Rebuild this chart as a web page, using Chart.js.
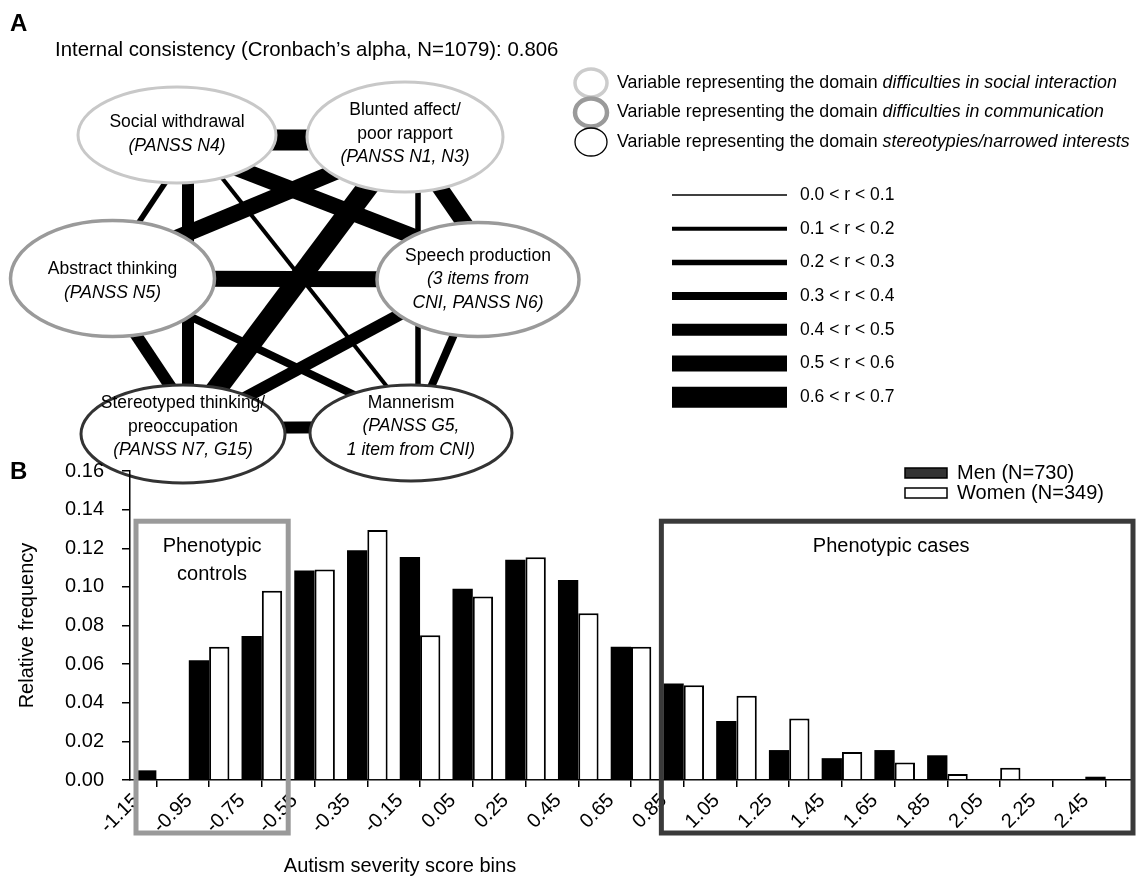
<!DOCTYPE html>
<html><head><meta charset="utf-8">
<script src="https://cdn.jsdelivr.net/npm/chart.js@4.4.1/dist/chart.umd.min.js"></script>
<style>
html,body{margin:0;padding:0;background:#fff;}
#wrap{position:relative;width:1136px;height:876px;overflow:hidden;background:#fff;}
canvas{position:absolute;left:0;}
#cA{top:0;} #cB{top:440px;}
</style></head><body>
<div id="wrap"><canvas id="cA" width="1136" height="500"></canvas><canvas id="cB" width="1136" height="436"></canvas></div>
<script>
// ===================== DATA =====================
// Panel B: histogram of autism severity score
const binLabels = ['-1.15','-0.95','-0.75','-0.55','-0.35','-0.15','0.05','0.25','0.45','0.65','0.85','1.05','1.25','1.45','1.65','1.85','2.05','2.25','2.45'];
const menFreq   = [0.005,0.062,0.0745,0.1085,0.119,0.1155,0.099,0.114,0.1035,0.069,0.050,0.0305,0.0155,0.0113,0.0155,0.0128,0.0,0.0,0.0017];
const womenFreq = [0.0,0.069,0.098,0.109,0.1295,0.075,0.095,0.1153,0.0864,0.069,0.049,0.0436,0.0319,0.0145,0.009,0.0031,0.0064,0.0,0.0];
const seriesLabels = ['Men (N=730)','Women (N=349)'];
const yTickLabels = ['0.00','0.02','0.04','0.06','0.08','0.10','0.12','0.14','0.16'];
const controlsBins = [0,2];   // bins inside "Phenotypic controls"
const casesBins = [10,18];    // bins inside "Phenotypic cases"
const controlsText = ['Phenotypic','controls'];
const casesText = ['Phenotypic cases'];
const xTitle = 'Autism severity score bins';
const yTitle = 'Relative frequency';

// Panel A: network of correlations
const nodeMainLines = [['Social withdrawal'],['Blunted affect/','poor rapport'],['Abstract thinking'],['Speech production'],['Stereotyped thinking/','preoccupation'],['Mannerism']];
const nodeItemLines = [['(PANSS N4)'],['(PANSS N1, N3)'],['(PANSS N5)'],['(3 items from','CNI, PANSS N6)'],['(PANSS N7, G15)'],['(PANSS G5,','1 item from CNI)']];
const nodeDomain = [0,0,1,1,2,2];
const edgeFrom = [0,0,0,0,0,1,1,1,1,2,2,2,3,3,4];
const edgeTo   = [1,2,3,4,5,2,3,4,5,3,4,5,4,5,5];
const edgeR    = [0.65,0.25,0.55,0.45,0.15,0.55,0.55,0.65,0.25,0.55,0.45,0.35,0.45,0.35,0.45];
const rBinLabels = ['0.0 < r < 0.1','0.1 < r < 0.2','0.2 < r < 0.3','0.3 < r < 0.4','0.4 < r < 0.5','0.5 < r < 0.6','0.6 < r < 0.7'];
const domainNames = ['difficulties in social interaction','difficulties in communication','stereotypies/narrowed interests'];
const domainPrefix = 'Variable representing the domain ';
const alphaText = 'Internal consistency (Cronbach\u2019s alpha, N=1079): 0.806';

// ===================== LAYOUT / STYLE =====================
const FONT = '"Liberation Sans", Arial, Helvetica, sans-serif';
const binWidths = [1.5,4,5.5,8,12,16,21];
const domainStyle = [{c:'#c8c8c8',w:3},{c:'#9a9a9a',w:3.5},{c:'#333333',w:3}];
const domainLegendStyle = [{c:'#cccccc',w:3.5},{c:'#9a9a9a',w:4.5},{c:'#000000',w:1.3}];
const nodeLayout = [
  {cx:177,cy:135,rx:99,ry:48,dy:-1},
  {cx:405,cy:137,rx:98,ry:55,dy:-3},
  {cx:112.5,cy:278.5,rx:102,ry:58,dy:2.5},
  {cx:478,cy:279.5,rx:101,ry:57,dy:0},
  {cx:183,cy:434,rx:102,ry:49,dy:-7},
  {cx:411,cy:433,rx:101,ry:48,dy:-6.5}
];
// endpoint shifts of each edge (layout only): [dx1,dy1,dx2,dy2]
const edgeShift = [[0,5,0,3],[20,0,-11,0],[0,10,0,-18],[11,0,5,0],[0,-14,0,-16],[0,6,0,-14],[0,0,25,0],[0,0,0,0],
                   [13,0,7,0],[0,0,0,0],[-14,0,19,0],[0,1,0,-11],[0,-7,0,-3],[0,0,0,0],[0,-6,0,-6]];

// ===================== PANEL A =====================
const edgeDatasets = edgeFrom.map((f,i)=>{
  const a = nodeLayout[f], b = nodeLayout[edgeTo[i]], s = edgeShift[i];
  const bin = Math.min(6, Math.floor(edgeR[i]*10));
  return {type:'line', data:[{x:a.cx+s[0],y:a.cy+s[1]},{x:b.cx+s[2],y:b.cy+s[3]}], borderColor:'#000', borderWidth:binWidths[bin],
          pointRadius:0, showLine:true, borderCapStyle:'butt', fill:false, clip:false};
});

const panelAPlugin = {
  id:'panelA',
  afterDatasetsDraw(chart){
    const {ctx, scales:{x,y}} = chart;
    ctx.save();
    nodeLayout.forEach((n,i)=>{
      const cx=x.getPixelForValue(n.cx), cy=y.getPixelForValue(n.cy);
      const rx=Math.abs(x.getPixelForValue(n.cx+n.rx)-cx), ry=Math.abs(y.getPixelForValue(n.cy+n.ry)-cy);
      ctx.beginPath(); ctx.ellipse(cx,cy,rx,ry,0,0,Math.PI*2);
      ctx.fillStyle='#fff'; ctx.fill();
      const st=domainStyle[nodeDomain[i]];
      ctx.lineWidth=st.w; ctx.strokeStyle=st.c; ctx.stroke();
      const lines=[...nodeMainLines[i].map(t=>[t,false]),...nodeItemLines[i].map(t=>[t,true])];
      const lh=23.5; const y0=cy+n.dy-(lines.length-1)*lh/2;
      ctx.fillStyle='#000'; ctx.textAlign='center'; ctx.textBaseline='middle';
      lines.forEach((l,k)=>{ ctx.font=(l[1]?'italic ':'')+'17.5px '+FONT; ctx.fillText(l[0],cx,y0+k*lh); });
    });
    ctx.textAlign='left'; ctx.textBaseline='middle'; ctx.fillStyle='#000';
    ctx.font='bold 24px '+FONT; ctx.fillText('A',10,24);
    ctx.font='20.4px '+FONT; ctx.fillText(alphaText,55,50);
    domainNames.forEach((d,i)=>{
      const cy=83+i*29.5, st=domainLegendStyle[i];
      ctx.beginPath(); ctx.ellipse(591,cy,16,14,0,0,Math.PI*2);
      ctx.lineWidth=st.w; ctx.strokeStyle=st.c; ctx.stroke();
      ctx.fillStyle='#000'; ctx.font='17.8px '+FONT; ctx.fillText(domainPrefix,617,cy);
      const w=ctx.measureText(domainPrefix).width;
      ctx.font='italic 17.8px '+FONT; ctx.fillText(d,617+w,cy);
    });
    rBinLabels.forEach((lab,i)=>{
      const yy=195+i*33.7;
      ctx.beginPath(); ctx.moveTo(672,yy); ctx.lineTo(787,yy);
      ctx.lineWidth=binWidths[i]; ctx.strokeStyle='#000'; ctx.lineCap='butt'; ctx.stroke();
      ctx.fillStyle='#000'; ctx.font='17.5px '+FONT; ctx.fillText(lab,800,yy);
    });
    ctx.restore();
  }
};

new Chart(document.getElementById('cA'),{
  type:'scatter',
  data:{datasets:edgeDatasets},
  options:{responsive:false,animation:false,devicePixelRatio:1,
    layout:{padding:0},
    plugins:{legend:{display:false},tooltip:{enabled:false}},
    scales:{x:{type:'linear',min:0,max:1136,display:false},y:{type:'linear',min:0,max:500,reverse:true,display:false}}
  },
  plugins:[panelAPlugin]
});

// ===================== PANEL B =====================
const panelBPlugin = {
  id:'panelB',
  afterDatasetsDraw(chart){
    const {ctx, scales:{x,y}, chartArea} = chart;
    const cw = x.width/binLabels.length;
    const left = i => x.getPixelForValue(i)-cw/2;
    const top = y.getPixelForValue(0.134);
    const bottom = chartArea.bottom+53;
    ctx.save();
    ctx.lineWidth=5; ctx.strokeStyle='#9a9a9a';
    const c0=left(controlsBins[0])+6, c1=left(controlsBins[1]+1);
    ctx.strokeRect(c0,top,c1-c0,bottom-top);
    ctx.strokeStyle='#3a3a3a';
    const k0=left(casesBins[0])+4, k1=left(casesBins[1]+1)+1;
    ctx.strokeRect(k0,top,k1-k0,bottom-top);
    ctx.fillStyle='#000'; ctx.textAlign='center'; ctx.textBaseline='middle'; ctx.font='20px '+FONT;
    controlsText.forEach((t,i)=>ctx.fillText(t,(c0+c1)/2,top+25+i*28));
    casesText.forEach((t,i)=>ctx.fillText(t,(k0+k1)/2-6,top+25+i*28));
    ctx.restore();
  },
  afterDraw(chart){
    const {ctx} = chart;
    ctx.save();
    ctx.fillStyle='#000'; ctx.textBaseline='middle'; ctx.textAlign='left';
    ctx.font='bold 24px '+FONT; ctx.fillText('B',10,32);
    const ds=chart.data.datasets;
    ds.forEach((d,i)=>{
      const yy=33+i*20;
      ctx.fillStyle=i===0?'#333':'#fff'; ctx.fillRect(905,yy-5,42,10);
      ctx.lineWidth=1.5; ctx.strokeStyle='#000'; ctx.strokeRect(905,yy-5,42,10);
      ctx.fillStyle='#000'; ctx.font='20px '+FONT; ctx.fillText(d.label,957,yy);
    });
    ctx.textAlign='center'; ctx.font='20px '+FONT;
    ctx.fillText(xTitle,400,426);
    ctx.restore();
  }
};

new Chart(document.getElementById('cB'),{
  type:'bar',
  data:{labels:binLabels,datasets:[
    {label:seriesLabels[0],data:menFreq,backgroundColor:'#000',borderColor:'#000',borderWidth:0,categoryPercentage:0.77,barPercentage:1.0},
    {label:seriesLabels[1],data:womenFreq,backgroundColor:'#fff',borderColor:'#000',borderWidth:2,categoryPercentage:0.77,barPercentage:1.0}
  ]},
  options:{responsive:false,animation:false,devicePixelRatio:1,
    layout:{padding:{left:0,right:4,top:31,bottom:0}},
    plugins:{legend:{display:false},tooltip:{enabled:false}},
    scales:{
      x:{offset:true,
         grid:{offset:false,drawOnChartArea:false,drawTicks:true,tickLength:7,color:'#000',lineWidth:1.5},
         border:{display:true,color:'#000',width:1.5},
         ticks:{autoSkip:false,minRotation:45,maxRotation:45,labelOffset:-20,padding:2,color:'#000',font:{size:20,family:FONT}},
         afterFit(s){s.height=96;}
      },
      y:{min:0,max:0.16,
         ticks:{stepSize:0.02,padding:18,color:'#000',font:{size:20,family:FONT},callback:(v)=>yTickLabels[Math.round(v/0.02)]},
         grid:{drawOnChartArea:false,drawTicks:true,tickLength:8,color:'#000',lineWidth:1.5},
         border:{display:true,color:'#000',width:1.5},
         title:{display:true,text:yTitle,color:'#000',font:{size:20,family:FONT},padding:{top:15,bottom:0}},
         afterFit(s){s.width=130;}
      }
    }
  },
  plugins:[panelBPlugin]
});
</script>
</body></html>
